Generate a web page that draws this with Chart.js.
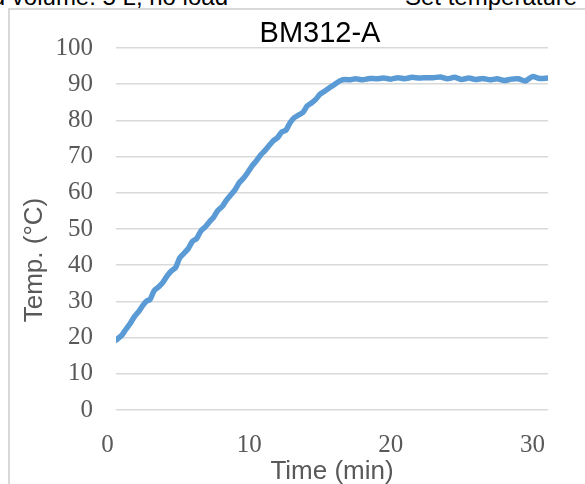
<!DOCTYPE html>
<html>
<head>
<meta charset="utf-8">
<title>BM312-A</title>
<script src="https://cdn.jsdelivr.net/npm/chart.js@4.4.1/dist/chart.umd.min.js"></script>
<style>
  html, body { margin: 0; padding: 0; background: #fff; overflow: hidden; }
  #wrap { position: relative; width: 585px; height: 484px; overflow: hidden; }
  #frame {
    position: absolute; left: 8px; top: 8px; width: 640px; height: 540px;
    border: 2px solid #d9d9d9; box-sizing: border-box;
  }
  .note {
    position: absolute; top: -15px;
    font: 24px "Liberation Sans", Arial, sans-serif; line-height: 24px;
    color: #000; white-space: nowrap;
  }
  #noteLeft { right: 357px; text-align: right; }
  #noteRight { left: 405px; }
  canvas { position: absolute; left: 0; top: 0; }
</style>
</head>
<body>
<div id="wrap">
  <div id="frame"></div>
  <div class="note" id="noteLeft">Liquid volume: 5 L, no load</div>
  <div class="note" id="noteRight">Set temperature</div>
  <canvas id="tempChart" width="585" height="484"></canvas>
</div>
<script>
// time in minutes, temperature in °C
const timeMin = [
  0.6, 1.0, 1.3, 1.6, 1.9, 2.2, 2.5, 2.8, 3.0, 3.3, 3.6, 3.9, 4.2, 4.5, 4.8,
  5.1, 5.4, 5.7, 6.0, 6.3, 6.6, 6.9, 7.2, 7.5, 7.8, 8.1, 8.4, 8.7, 9.0, 9.3,
  9.6, 9.9, 10.2, 10.5, 10.8, 11.1, 11.4, 11.7, 12.0, 12.3, 12.6, 12.9, 13.2,
  13.5, 13.8, 14.1, 14.4, 14.7, 15.0, 15.3, 15.6, 15.9, 16.2, 16.5, 16.8, 17.1,
  17.5, 18.0, 18.5, 19.0, 19.5, 20.0, 20.5, 21.0, 21.5, 22.0, 22.5, 23.0, 23.5,
  24.0, 24.5, 25.0, 25.5, 26.0, 26.5, 27.0, 27.5, 28.0, 28.5, 29.0, 29.5, 30.0,
  30.5, 31.1
];
const tempC = [
  19.3, 20.6, 22.3, 23.9, 25.8, 27.2, 28.9, 30.2, 30.5, 33.0, 34.0, 35.2, 37.0, 38.4, 39.3,
  42.0, 43.3, 44.6, 46.6, 47.4, 49.5, 50.6, 52.0, 53.3, 55.2, 56.2, 58.0, 59.4, 60.8, 62.8,
  64.0, 65.6, 67.4, 68.8, 70.4, 71.6, 73.0, 74.4, 75.2, 76.8, 77.3, 79.4, 80.8,
  81.5, 82.2, 84.0, 84.8, 85.8, 87.2, 88.0, 88.8, 89.6, 90.4, 91.1, 91.3, 91.2,
  91.5, 91.2, 91.6, 91.5, 91.7, 91.4, 91.8, 91.5, 91.9, 91.7, 91.8, 91.8, 92.0,
  91.5, 91.9, 91.3, 91.7, 91.3, 91.6, 91.2, 91.5, 91.0, 91.4, 91.5, 90.9, 92.1,
  91.6, 91.7
];
const xTicks = [0, 10, 20, 30];
const yTicks = [0, 10, 20, 30, 40, 50, 60, 70, 80, 90, 100];

const chartTitle = 'BM312-A';
const xTitle = 'Time (min)';
const yTitle = 'Temp. (°C)';

// chart title and y title are off-centre in the original, so draw them by hand
const titlesPlugin = {
  id: 'titles',
  afterDraw(chart) {
    const ctx = chart.ctx;
    ctx.save();
    ctx.textAlign = 'center';
    ctx.textBaseline = 'alphabetic';
    ctx.font = '29px "Liberation Sans", Arial, sans-serif';
    ctx.fillStyle = '#000';
    ctx.fillText(chartTitle, 320, 41.5);
    ctx.translate(41.5, 260);
    ctx.rotate(-Math.PI / 2);
    ctx.font = '26px "Liberation Sans", Arial, sans-serif';
    ctx.fillStyle = '#595959';
    ctx.fillText(yTitle, 0, 0);
    ctx.restore();
  }
};

const tickFont = { family: '"Liberation Serif", "Times New Roman", serif', size: 25 };
const titleFont = { family: '"Liberation Sans", Arial, sans-serif', size: 26 };

new Chart(document.getElementById('tempChart').getContext('2d'), {
  type: 'line',
  data: {
    datasets: [{
      label: chartTitle,
      data: timeMin.map((t, i) => ({ x: t, y: tempC[i] })),
      borderColor: '#5b9bd5',
      borderWidth: 5.5,
      pointRadius: 0,
      tension: 0.2,
      borderJoinStyle: 'round',
      borderCapStyle: 'round',
      fill: false
    }]
  },
  options: {
    responsive: false,
    animation: false,
    layout: { padding: { left: 0, right: 37, top: 48, bottom: 0 } },
    plugins: {
      legend: { display: false },
      tooltip: { enabled: false },
      title: { display: false }
    },
    scales: {
      x: {
        type: 'linear',
        min: 0.6,
        max: 31.1,
        afterBuildTicks: function(scale) {
          scale.ticks = xTicks.map(v => ({ value: v }));
        },
        afterFit: function(scale) { scale.height = 74; },
        grid: { display: false, drawTicks: false },
        border: { display: false },
        ticks: { autoSkip: false, maxRotation: 0, padding: 20, color: '#595959', font: tickFont },
        title: { display: true, text: xTitle, color: '#595959', font: titleFont, padding: { top: 0, bottom: -3 } }
      },
      y: {
        type: 'linear',
        min: 0,
        max: 100,
        afterBuildTicks: function(scale) {
          scale.ticks = yTicks.map(v => ({ value: v }));
        },
        afterFit: function(scale) { scale.width = 116; },
        grid: { color: '#d9d9d9', lineWidth: 1.5, drawTicks: false },
        border: { display: false },
        ticks: { autoSkip: false, padding: 23, color: '#595959', font: tickFont }
      }
    }
  },
  plugins: [titlesPlugin]
});
</script>
</body>
</html>
